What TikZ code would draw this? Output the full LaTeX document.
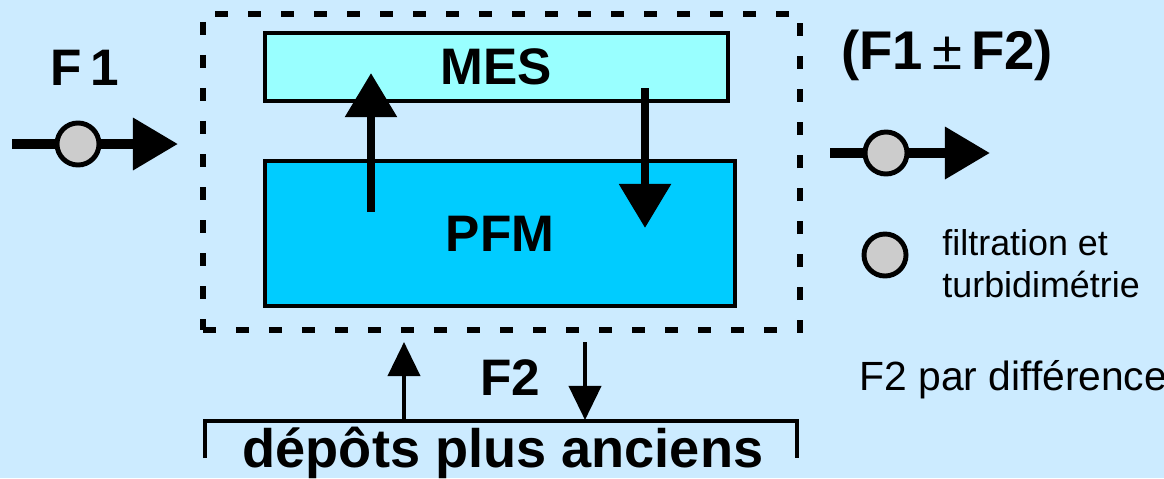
\documentclass[tikz,border=0pt]{standalone}
\usepackage{fontspec}
\setmainfont{Liberation Sans}
\usetikzlibrary{arrows.meta,positioning}
\definecolor{fond}{RGB}{204,235,255}
\definecolor{mescol}{RGB}{153,255,255}
\definecolor{pfmcol}{RGB}{0,204,255}
\definecolor{sondecol}{RGB}{204,204,204}
\tikzset{
  bac/.style={draw, line width=1.1pt, inner sep=0pt, font=\fontsize{14.6pt}{17pt}\selectfont\bfseries},
  sonde/.style={circle, draw, line width=1.4pt, fill=sondecol, minimum size=0.42cm, inner sep=0pt},
  flux/.style={line width=2.8pt},
  fluxtip/.style={flux, -{Triangle[length=0.45cm,width=0.5cm]}},
  echange/.style={line width=2.5pt, -{Triangle[length=0.44cm,width=0.5cm]}},
  depot/.style={line width=1.1pt, -{Triangle[length=0.34cm,width=0.32cm]}},
  titre/.style={font=\fontsize{14.6pt}{17pt}\selectfont\bfseries},
  legende/.style={font=\fontsize{10.2pt}{12pt}\selectfont, align=left}
}

\begin{document}
\begin{tikzpicture}[x=0.01cm, y=-0.01cm, >=stealth]
    \useasboundingbox[fill=fond] (0,0) rectangle (1164,478);
    \node[draw, line width=1.7pt, dash pattern=on 0.13cm off 0.2cm, minimum width=5.97cm, minimum height=3.16cm] (zone) at (501.5,172) {};
    \node[bac, fill=mescol, minimum width=4.63cm, minimum height=0.68cm] (mes) at (496.5,67) {MES};
    \node[bac, fill=pfmcol, minimum width=4.7cm, minimum height=1.45cm] (pfm) at (500,233.5) {PFM};
    \coordinate (montee0) at (371,212);
    \coordinate (montee1) at (371,73);
    \coordinate (descente0) at (645,88);
    \coordinate (descente1) at (645,228);
    \draw[echange] (montee0) -- (montee1);
    \draw[echange] (descente0) -- (descente1);

    \node[titre] (f1) at (85,68) {F\,1};
    \coordinate (entree0) at (12,144);
    \node[sonde] (s1) at (78,144) {};
    \coordinate (entree1) at (178,144);
    \draw[flux] (entree0) -- (s1);
    \draw[fluxtip] (s1) -- (entree1);

    \node[titre, font=\fontsize{15.5pt}{18pt}\selectfont\bfseries] (f12) at (947,55) {(F1\,{\mdseries±}\,F2)};
    \coordinate (sortie0) at (830,153);
    \node[sonde] (s2) at (886,153) {};
    \coordinate (sortie1) at (990,153);
    \draw[flux] (sortie0) -- (s2);
    \draw[fluxtip] (s2) -- (sortie1);

    \node[sonde] (s3) at (885,255) {};
    \node[legende, anchor=west] (leg) at (930,264) {filtration et\\turbidimétrie};
    \node[font=\fontsize{11.6pt}{14pt}\selectfont, anchor=west] (diff) at (847,380) {F2 par différence};

    \node[titre] (f2) at (510,378) {F2};
    \coordinate (haut0) at (404,420);
    \coordinate (haut1) at (404,342);
    \coordinate (bas0) at (585,342);
    \coordinate (bas1) at (585,420);
    \draw[depot] (haut0) -- (haut1);
    \draw[depot] (bas0) -- (bas1);
    \draw[line width=1.1pt] (205,458) -- (205,421) -- (797,421) -- (797,458);
    \node[font=\fontsize{15.4pt}{18pt}\selectfont\bfseries, anchor=base] (anciens) at (503,467) {dépôts plus anciens};
\end{tikzpicture}
\end{document}
